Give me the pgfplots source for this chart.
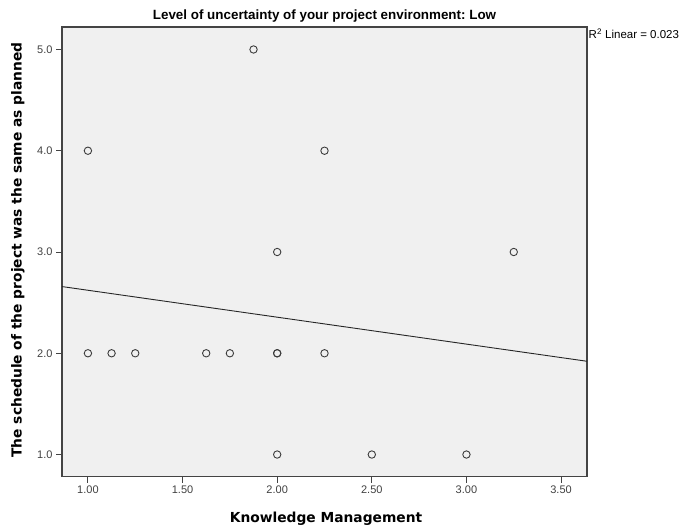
\documentclass[border=0pt]{standalone}
\usepackage{fontspec}
\setmainfont{Liberation Sans}
\newfontfamily\labfont{DejaVu Sans}
\usepackage{pgfplots}
\pgfplotsset{compat=1.18}
\frenchspacing
\definecolor{bgray}{HTML}{F0F0F0}
\definecolor{fgray}{HTML}{444444}
\definecolor{mgray}{HTML}{3C3C3C}
\begin{document}
\begin{tikzpicture}[x=1pt,y=1pt]
\useasboundingbox (0,0) rectangle (682,531);
\begin{axis}[
  at={(62pt,54.5pt)}, anchor=south west,
  scale only axis, width=525pt, height=449.5pt,
  xmin=0.863, xmax=3.637, ymin=0.783, ymax=5.222,
  axis background/.style={fill=bgray},
  axis line style={fgray, line width=1.1pt},
  tick pos=left, tick align=outside,
  major tick length=6pt,
  tick style={fgray, line width=0.9pt},
  xtick={1,1.5,2,2.5,3,3.5},
  ytick={1,2,3,4,5},
  /pgf/number format/assume math mode=true,
  xticklabel style={/pgf/number format/fixed, /pgf/number format/fixed zerofill, /pgf/number format/precision=2},
  yticklabel style={/pgf/number format/fixed, /pgf/number format/fixed zerofill, /pgf/number format/precision=1},
  ticklabel style={font=\fontsize{11}{13}\selectfont, text=black!75},
  clip=false,
]
\addplot[only marks, mark=o, mark size=3.7pt, mark options={mgray, line width=0.9pt}] coordinates {
(1.875,5) (1,4) (2.25,4) (2,3) (3.25,3)
(1,2) (1.125,2) (1.25,2) (1.625,2) (1.75,2) (2,2) (2,2) (2.25,2)
(2,1) (2.5,1) (3,1)
};
\addplot[black!85, line width=0.9pt] coordinates {(0.863,2.6587) (3.637,1.9210)};
\end{axis}
\node[font=\bfseries\fontsize{13.4}{15}\selectfont, anchor=base, inner sep=0pt] at (324.5,511) {Level of uncertainty of your project environment: Low};
\node[font=\fontsize{11.5}{13}\selectfont, anchor=base west, inner sep=0pt] at (588.5,492) {R\textsuperscript{2} Linear = 0.023};
\node[font=\labfont\bfseries\fontsize{13.8}{15}\selectfont, rotate=90, anchor=base, inner sep=0pt] at (21.5,281) {The schedule of the project was the same as planned};
\node[font=\labfont\bfseries\fontsize{13.8}{15}\selectfont, anchor=base, inner sep=0pt] at (326,8.5) {Knowledge Management};
\end{tikzpicture}
\end{document}
